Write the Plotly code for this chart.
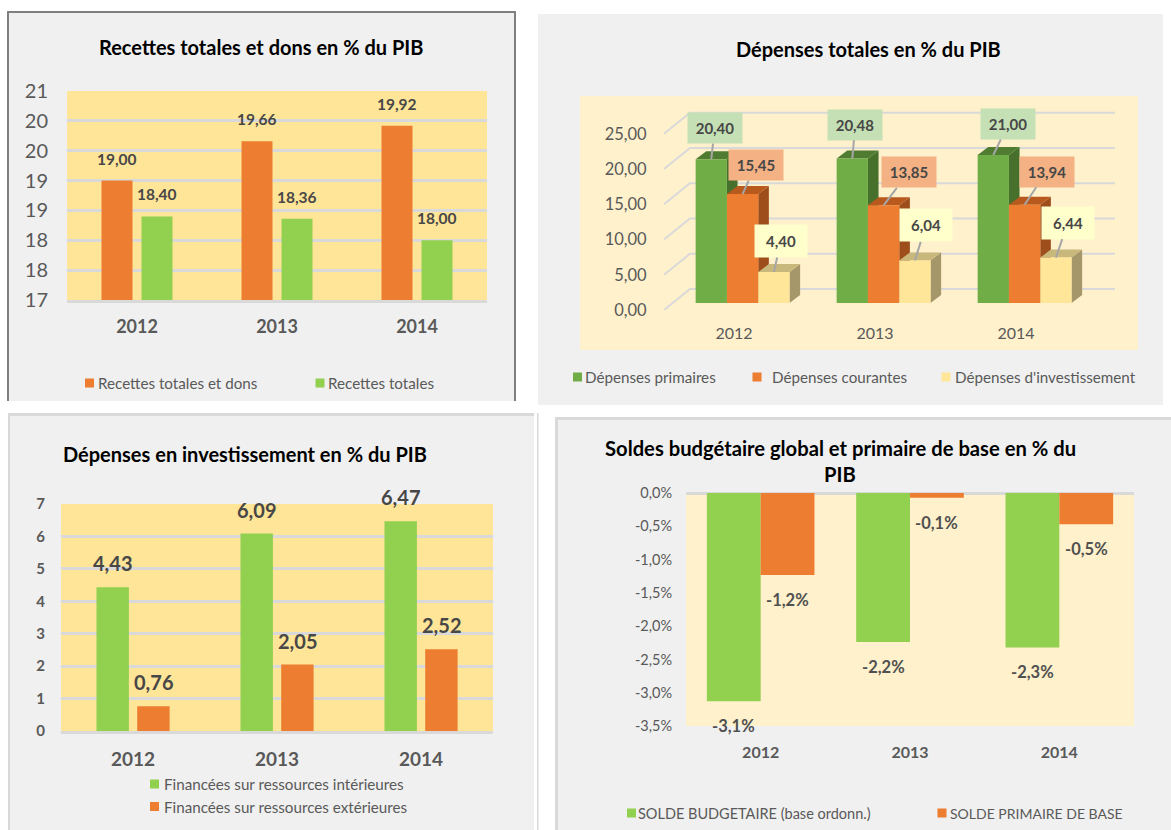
import plotly.graph_objects as go

W, H = 1171, 830
FONT = "Lato"
GREY = "#595959"
DARK = "#474747"
GRID = "#D9D9D9"
ORANGE = "#ED7D31"
LIME = "#92D050"
GOLD = "#FFE597"
CREAM = "#FFF1CC"
PANEL = "#F0F0F0"

years = ["2012", "2013", "2014"]

rec_dons = [19.00, 19.66, 19.92]
rec_tot = [18.40, 18.36, 18.00]
rec_ticks = [17, 17.5, 18, 18.5, 19, 19.5, 20, 20.5]
rec_ticktext = ["17", "18", "18", "19", "19", "20", "20", "21"]

dep_prim = [20.40, 20.48, 21.00]
dep_cour = [15.45, 13.85, 13.94]
dep_inv = [4.40, 6.04, 6.44]
dep_ticks = [0, 5, 10, 15, 20, 25]
dep_ticktext = ["0,00", "5,00", "10,00", "15,00", "20,00", "25,00"]

inv_int = [4.43, 6.09, 6.47]
inv_ext = [0.76, 2.05, 2.52]
inv_ticks = [0, 1, 2, 3, 4, 5, 6, 7]

solde_bud = [-3.13, -2.24, -2.32]
solde_prim = [-1.23, -0.07, -0.47]
solde_bud_txt = ["-3,1%", "-2,2%", "-2,3%"]
solde_prim_txt = ["-1,2%", "-0,1%", "-0,5%"]
solde_ticks = [0, -0.5, -1, -1.5, -2, -2.5, -3, -3.5]
solde_ticktext = ["0,0%", "-0,5%", "-1,0%", "-1,5%", "-2,0%", "-2,5%", "-3,0%", "-3,5%"]


def fr(v):
    return f"{v:.2f}".replace(".", ",")


def px(x):
    return x / W


def py(y):
    return 1 - y / H


shapes, annos = [], []


def rect(x0, y0, x1, y1, color):
    shapes.append(dict(type="rect", xref="paper", yref="paper", layer="below",
                       x0=px(x0), x1=px(x1), y0=py(y0), y1=py(y1),
                       fillcolor=color, line_width=0))


def text(x, y, s, size, color=GREY, bold=False, anchor="center"):
    annos.append(dict(xref="paper", yref="paper", x=px(x), y=py(y), text=s, showarrow=False,
                      xanchor=anchor, yanchor="middle",
                      font=dict(family=FONT, size=size, color=color,
                                weight=700 if bold else 400)))


def legend(x, y, color, label, tx, size):
    rect(x, y - 4.5, x + 9, y + 4.5, color)
    text(tx - 2, y, label, size, anchor="left")


# Panels
rect(7, 11, 516, 401, "#7F7F7F")
rect(9, 13, 514, 401, PANEL)
rect(538, 14, 1163, 405, PANEL)
rect(8, 413, 534, 830, GRID)
rect(10, 416, 534, 830, PANEL)
rect(537, 413, 538.5, 830, GRID)
rect(555, 417, 1171, 830, GRID)
rect(558, 420, 1171, 830, PANEL)
# Plot backgrounds
rect(67, 91, 487, 300, GOLD)
rect(580, 96, 1138, 350, CREAM)
rect(61, 504, 493, 731, GOLD)
rect(686, 493, 1134, 726, CREAM)

# Titles
text(261, 47, "Recettes totales et dons en % du PIB", 20, "#000000", True)
text(868, 49, "Dépenses totales en % du PIB", 20, "#000000", True)
text(244.5, 453.5, "Dépenses en investissement en % du PIB", 20, "#000000", True)
text(840, 448, "Soldes budgétaire global et primaire de base en % du", 20.2, "#000000", True)
text(840, 474, "PIB", 20.2, "#000000", True)

# Legends
legend(85, 383, ORANGE, "Recettes totales et dons", 98, 15.2)
legend(315.5, 383, LIME, "Recettes totales", 328, 15.2)
legend(573, 377, "#70AD47", "Dépenses primaires", 585, 15.2)
legend(752.5, 377, ORANGE, "Dépenses courantes", 772, 15.2)
legend(941.5, 377, "#FFE699", "Dépenses d'investissement", 955, 15.2)
legend(150, 784, LIME, "Financées sur ressources intérieures", 163.5, 15.2)
legend(150, 806.5, ORANGE, "Financées sur ressources extérieures", 163.5, 15.2)
legend(627, 813, LIME, "SOLDE BUDGETAIRE (base ordonn.)", 638, 14.5)
legend(937.5, 813, ORANGE, "SOLDE PRIMAIRE DE BASE", 950, 14)

idx = [0, 1, 2]
traces = []


def bars(vals, color, name, axis, offset, width, base=None):
    traces.append(go.Bar(x=idx, y=vals, offset=offset, width=width, base=base, name=name,
                         marker=dict(color=color, line_width=0), showlegend=False,
                         xaxis="x" + axis, yaxis="y" + axis))


def val_labels(vals, labels, axis, xc, shift, size, bold=True, color=DARK):
    for i, v, t in zip(idx, vals, labels):
        annos.append(dict(xref="x" + axis, yref="y" + axis, x=i + xc, y=v, yshift=shift,
                          text=t, showarrow=False, xanchor="center", yanchor="middle",
                          font=dict(family=FONT, size=size, color=color,
                                    weight=700 if bold else 400)))


# Chart 1
w1 = 31 / 140
bars(rec_dons, ORANGE, "Recettes totales et dons", "", -35.5 / 140, w1)
bars(rec_tot, LIME, "Recettes totales", "", 4.5 / 140, w1)
val_labels(rec_dons, [fr(v) for v in rec_dons], "", -20 / 140, 22, 15.5)
val_labels(rec_tot, [fr(v) for v in rec_tot], "", 20 / 140, 22, 15.5)

# Chart 3
cat3 = 144
w3 = 32.4 / cat3
bars(inv_int, LIME, "Financées sur ressources intérieures", "3", -36.5 / cat3, w3)
bars(inv_ext, ORANGE, "Financées sur ressources extérieures", "3", 4.2 / cat3, w3)
val_labels(inv_int, [fr(v) for v in inv_int], "3", -20.3 / cat3, 24, 20)
val_labels(inv_ext, [fr(v) for v in inv_ext], "3", 20.4 / cat3, 24, 20)

# Chart 4
cat4 = 149.6
w4 = 53.9 / cat4
bars(solde_bud, LIME, "SOLDE BUDGETAIRE (base ordonn.)", "4", -w4, w4)
bars(solde_prim, ORANGE, "SOLDE PRIMAIRE DE BASE", "4", 0, w4)
val_labels(solde_bud, solde_bud_txt, "4", -w4 / 2, -25, 16.5, True, "#505050")
val_labels(solde_prim, solde_prim_txt, "4", w4 / 2, -25, 16.5, True, "#505050")

# Chart 2: a pseudo-3D column chart on a linear axis
X2 = 141.0       # px per category
Y2 = 7.05        # px per unit
base2 = 7 / Y2
w2 = 31.3 / X2
shift2 = 8.6 / X2
bar_dx, bar_dy = 10.6 / X2, 8 / Y2
wall_dx, wall_dy = 26 / X2, 21 / Y2
x_left = (664 - 734) / X2
x_right = (1115 - 734) / X2


def path(points):
    return "M " + " L ".join(f"{a:.4f},{b:.4f}" for a, b in points) + " Z"


for t in dep_ticks:
    shapes.append(dict(type="path", xref="x2", yref="y2", layer="below",
                       path=f"M {x_left:.4f},{t:.4f} L {x_left + wall_dx:.4f},{t + wall_dy:.4f} "
                            f"L {x_right:.4f},{t + wall_dy:.4f}",
                       line=dict(color=GRID, width=2)))

series2 = [
    (dep_prim, "#70AD47", "#47702C", "#4F7C31", "Dépenses primaires", "#C5E0B4", (52, 28),
     [(3.4, -31), (3, -34), (15, -31)]),
    (dep_cour, ORANGE, "#9E4E1B", "#B85A1E", "Dépenses courantes", "#F4B183", (52, 28),
     [(13, -29), (25, -33), (22, -33)]),
    (dep_inv, "#FFE699", "#A6976A", "#C9B87C", "Dépenses d'investissement", "#FFFFCC", (50, 30),
     [(7, -31), (11, -35), (12, -35)]),
]
for s, (vals, front, side, top, name, box, (bw, bh), offs) in enumerate(series2):
    left = shift2 + (s - 1.5) * w2
    for i, v in zip(idx, vals):
        xa, xb, y0, y1 = i + left, i + left + w2, base2, base2 + v
        shapes.append(dict(type="path", xref="x2", yref="y2", layer="below", line_width=0,
                           fillcolor=side,
                           path=path([(xb, y0), (xb + bar_dx, y0 + bar_dy),
                                      (xb + bar_dx, y1 + bar_dy), (xb, y1)])))
        shapes.append(dict(type="path", xref="x2", yref="y2", layer="below", line_width=0,
                           fillcolor=top,
                           path=path([(xa, y1), (xa + bar_dx, y1 + bar_dy),
                                      (xb + bar_dx, y1 + bar_dy), (xb, y1)])))
    bars(vals, front, name, "2", left, w2, base=base2)
    for i, v, (ax, ay) in zip(idx, vals, offs):
        annos.append(dict(xref="x2", yref="y2", x=i + left + w2 / 2, y=base2 + v, ax=ax, ay=ay,
                          text=fr(v), showarrow=True, arrowhead=0, arrowwidth=2,
                          arrowcolor="#A6A6A6", bgcolor=box, width=bw, height=bh,
                          font=dict(family=FONT, size=15, color=DARK, weight=700)))


def xaxis(px0, px1, lo, hi, size, bold, ticklen, anchor, line=False):
    return dict(domain=[px(px0), px(px1)], range=[lo, hi], tickmode="array", tickvals=idx,
                ticktext=years, showgrid=False, zeroline=False, anchor=anchor, automargin=False,
                ticks="outside", ticklen=ticklen, tickcolor="rgba(0,0,0,0)",
                showline=line, linecolor=GRID, linewidth=3,
                tickfont=dict(family=FONT, size=size, color=GREY, weight=700 if bold else 400))


def yaxis(py0, py1, lo, hi, tv, tt, size, bold, ticklen, anchor, grid=True, lw=3):
    return dict(domain=[py(py1), py(py0)], range=[lo, hi], tickmode="array", tickvals=tv,
                ticktext=tt, showgrid=grid, gridcolor=GRID, gridwidth=lw, zeroline=False,
                anchor=anchor, automargin=False, ticks="outside", ticklen=ticklen,
                tickcolor="rgba(0,0,0,0)", showline=False,
                tickfont=dict(family=FONT, size=size, color=GREY, weight=700 if bold else 400))


fig = go.Figure(traces)
fig.update_layout(
    template="none",
    width=W, height=H, margin=dict(l=0, r=0, t=0, b=0, pad=0), autosize=False,
    paper_bgcolor="#FFFFFF", plot_bgcolor="rgba(0,0,0,0)", showlegend=False,
    barmode="overlay", shapes=shapes, annotations=annos,
    font=dict(family=FONT),
    xaxis=xaxis(67, 487, -0.5, 2.5, 18, True, 8, "y", True),
    yaxis=yaxis(91, 300, 17, 20.5, rec_ticks, rec_ticktext, 20, False, 14, "x"),
    xaxis2=xaxis(664, 1130, x_left, (1130 - 734) / X2, 16, False, 9, "y2"),
    yaxis2=yaxis(98.5, 310, 0, 30, dep_ticks, dep_ticktext, 16.5, False, 13, "x2", grid=False),
    xaxis3=xaxis(61, 493, -0.5, 2.5, 19, True, 9, "y3", True),
    yaxis3=yaxis(504, 731, 0, 7, inv_ticks, [str(v) for v in inv_ticks], 15, True, 12, "x3"),
    xaxis4=xaxis(686, 1134, -0.5, 2.5, 16, True, 12, "y4"),
    yaxis4=dict(yaxis(493, 726, -3.5, 0, solde_ticks, solde_ticktext, 14.5, False, 10, "x4", grid=False),
                zeroline=True, zerolinecolor=GRID, zerolinewidth=3),
)
fig.write_html("out.html", post_script="document.body.style.margin='0';document.documentElement.style.overflow='hidden';",
               config=dict(displayModeBar=False))
